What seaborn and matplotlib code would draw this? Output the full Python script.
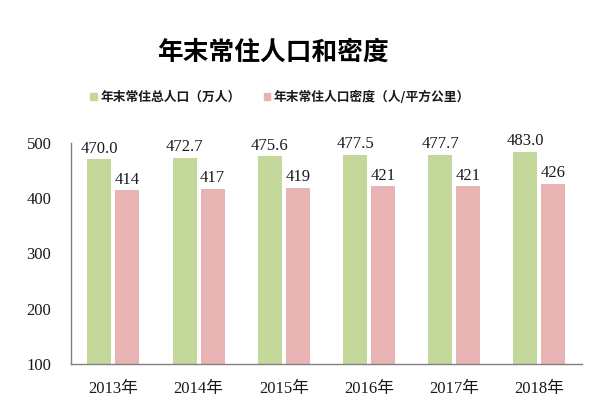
import pandas as pd
import matplotlib.pyplot as plt
import numpy as np
import seaborn as sns

years = ["2013年", "2014年", "2015年", "2016年", "2017年", "2018年"]
population = [470.0, 472.7, 475.6, 477.5, 477.7, 483.0]
density = [414, 417, 419, 421, 421, 426]
pop_name = "年末常住总人口（万人）"
dens_name = "年末常住人口密度（人/平方公里）"

df = pd.DataFrame({
    "year": years * 2,
    "value": population + density,
    "series": [pop_name] * len(years) + [dens_name] * len(years),
})

sns.set_style("white")
serif = ["Liberation Serif", "Noto Sans CJK SC"]
plt.rcParams["font.family"] = serif
plt.rcParams["text.color"] = "#1a1a1a"
plt.rcParams["xtick.color"] = "#1a1a1a"
plt.rcParams["ytick.color"] = "#1a1a1a"

fig = plt.figure(figsize=(6, 4.08), dpi=100)
ax = fig.add_axes([0.118, 0.108, 0.852, 0.542])

colors = ["#c5d89c", "#e8b3b3"]
sns.barplot(data=df, x="year", y="value", hue="series", palette=colors,
            saturation=1, width=0.655, gap=0.14, linewidth=0,
            ax=ax, legend=False)

# value labels above the bars
ax.bar_label(ax.containers[0], labels=[f"{v:.1f}" for v in population],
             padding=2, fontsize=12, family=serif)
ax.bar_label(ax.containers[1], labels=[f"{v}" for v in density],
             padding=2, fontsize=12, family=serif)

ax.set_ylim(100, 500)
ax.set_yticks([100, 200, 300, 400, 500])
ax.set_xlim(-0.5, len(years) - 0.5)
ax.set_xlabel("")
ax.set_ylabel("")
for s in ["top", "right"]:
    ax.spines[s].set_visible(False)
for s in ["left", "bottom"]:
    ax.spines[s].set_color("#808080")
    ax.spines[s].set_linewidth(1)

ax.set_xticks(np.arange(-0.5, len(years)), minor=True)
ax.tick_params(axis="x", which="major", length=0, labelsize=12, pad=12)
ax.tick_params(axis="x", which="minor", length=4, direction="in", color="#808080")
ax.tick_params(axis="y", length=0, labelsize=12, pad=14)

fig.text(0.455, 0.873, "年末常住人口和密度", ha="center", va="center",
         fontsize=18.5, fontweight="black", color="black",
         family=["Noto Sans CJK SC"])

# legend
handles = [plt.Rectangle((0, 0), 1, 1, color=c) for c in colors]
fig.legend(handles, [pop_name, dens_name], loc="center", bbox_to_anchor=(0.467, 0.762),
           ncol=2, frameon=False, handlelength=0.5, handleheight=0.5,
           columnspacing=1.8, handletextpad=0.3,
           prop={"family": "Noto Sans CJK SC", "weight": "bold", "size": 9.2})

fig.savefig("out.png", dpi=100)
